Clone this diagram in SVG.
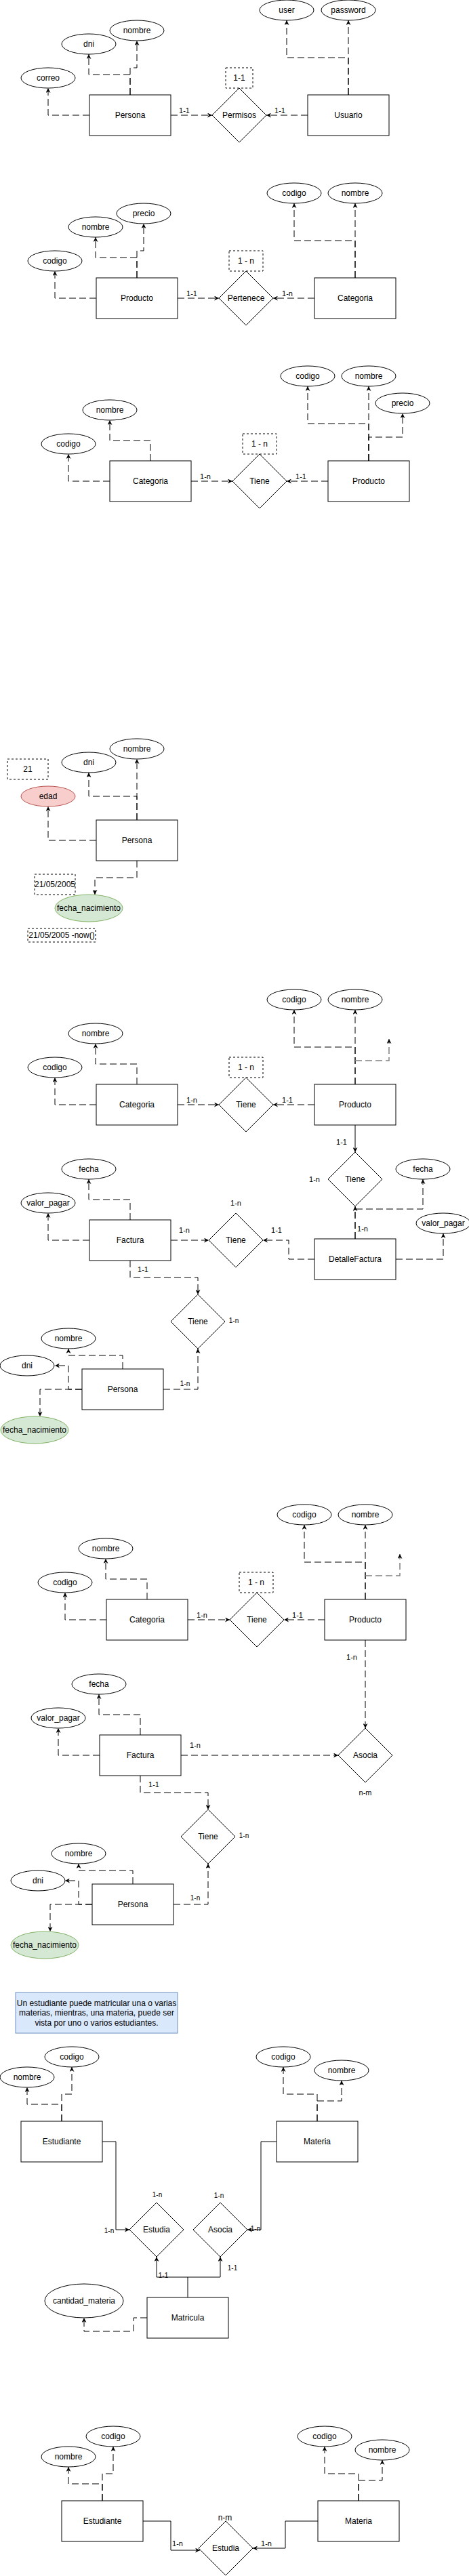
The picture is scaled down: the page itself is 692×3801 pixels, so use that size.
<svg xmlns="http://www.w3.org/2000/svg" width="692" height="3801" viewBox="0 0 692 3801">
<defs>
<style>
.ent,.attr,.rel{fill:#fff;stroke:#000;stroke-width:1}
.box{fill:none;stroke:#000;stroke-width:1;stroke-dasharray:3 3}
.red{fill:#f8cecc;stroke:#b85450}
.green{fill:#d5e8d4;stroke:#82b366}
.note{fill:#dae8fc;stroke:#6c8ebf}
.d{fill:none;stroke:#000;stroke-width:1;stroke-dasharray:10 5;marker-end:url(#arr)}
.dn{fill:none;stroke:#000;stroke-width:1;stroke-dasharray:10 5}
.g{fill:none;stroke:#808080;stroke-width:1.5;stroke-dasharray:10 5;marker-end:url(#arr)}
.s{fill:none;stroke:#000;stroke-width:1;marker-end:url(#arr)}
.sn{fill:none;stroke:#000;stroke-width:1}
text{font-family:"Liberation Sans",Arial,Helvetica,sans-serif;font-size:12px;fill:#000;text-anchor:middle;dominant-baseline:central}
.l{font-size:11px}
.sm{font-size:10px}
</style>
<marker id="arr" viewBox="0 0 10 10" refX="10" refY="5" markerWidth="7" markerHeight="7" markerUnits="userSpaceOnUse" orient="auto">
<path d="M0,0 L10,5 L0,10 L3,5 z" fill="#000"/>
</marker>
</defs>
<rect x="0" y="0" width="692" height="3801" fill="#fff"/>

<g id="connectors">
<!-- section 1 -->
<path class="d" d="M252,170 H313"/><text class="l" x="272" y="163">1-1</text>
<path class="d" d="M454,170 H393"/><text class="l" x="413" y="163">1-1</text>
<path class="d" d="M132,170 H71 V130"/>
<path class="d" d="M192,140 V110 H131 V80"/>
<path class="d" d="M192,140 V100 H202 V60"/>
<path class="d" d="M514,140 V85 H423 V30"/>
<path class="d" d="M514,140 V30"/>
<!-- section 2 -->
<path class="d" d="M262,440 H323"/><text class="l" x="283" y="433">1-1</text>
<path class="d" d="M464,440 H403"/><text class="l" x="424" y="433">1-n</text>
<path class="d" d="M142,440 H81 V400"/>
<path class="d" d="M202,410 V380 H141 V350"/>
<path class="d" d="M202,410 V370 H212 V330"/>
<path class="d" d="M524,410 V355 H434 V300"/>
<path class="d" d="M524,410 V300"/>
<!-- section 3 -->
<path class="d" d="M282,710 H343"/><text class="l" x="303" y="703">1-n</text>
<path class="d" d="M484,710 H423"/><text class="l" x="444" y="703">1-1</text>
<path class="d" d="M162,710 H101 V670"/>
<path class="d" d="M222,680 V650 H162 V620"/>
<path class="d" d="M544,680 V625 H454 V570"/>
<path class="d" d="M544,680 V570"/>
<path class="d" d="M544,680 V645 H594 V610"/>
<!-- section 4 -->
<path class="d" d="M142,1240 H71 V1190"/>
<path class="d" d="M202,1210 V1175 H131 V1140"/>
<path class="d" d="M202,1210 V1120"/>
<path class="d" d="M202,1270 V1295 H140 V1320"/>
<!-- section 5 -->
<path class="d" d="M262,1630 H323"/><text class="l" x="283" y="1623">1-n</text>
<path class="d" d="M464,1630 H403"/><text class="l" x="424" y="1623">1-1</text>
<path class="d" d="M142,1630 H81 V1590"/>
<path class="d" d="M202,1600 V1570 H141 V1540"/>
<path class="d" d="M524,1600 V1545 H434 V1490"/>
<path class="d" d="M524,1600 V1490"/>
<path class="g" d="M524,1565 H574 V1533"/>
<path class="s" d="M524,1660 V1700"/><text class="l" x="504" y="1685">1-1</text>
<text class="l" x="464" y="1740">1-n</text>
<path class="d" d="M252,1830 H308"/><text class="l" x="272" y="1815">1-n</text>
<path class="d" d="M464,1858 H426 V1830 H388"/><text class="l" x="408" y="1815">1-1</text>
<text class="l" x="348" y="1775">1-n</text>
<path class="d" d="M132,1830 H71 V1790"/>
<path class="d" d="M192,1800 V1770 H131 V1740"/>
<path class="d" d="M524,1828 V1780"/><text class="l" x="535" y="1813">1-n</text>
<path class="d" d="M524,1828 V1784 H624 V1740"/>
<path class="d" d="M584,1858 H654 V1820"/>
<path class="d" d="M192,1860 V1885 H292 V1910"/><text class="l" x="211" y="1873">1-1</text>
<text class="sm" x="345" y="1948">1-n</text>
<path class="d" d="M241,2050 H292 V1990"/><text class="sm" x="273" y="2041">1-n</text>
<path class="d" d="M181,2020 V2000 H101 V1990"/>
<path class="d" d="M121,2050 H101 V2015 H81"/>
<path class="d" d="M121,2050 H59 V2090"/>
<!-- section 6 -->
<path class="d" d="M277,2390 H339"/><text class="l" x="298" y="2383">1-n</text>
<path class="d" d="M479,2390 H419"/><text class="l" x="439" y="2383">1-1</text>
<path class="d" d="M157,2390 H96 V2350"/>
<path class="d" d="M217,2360 V2330 H156 V2300"/>
<path class="d" d="M539,2360 V2305 H449 V2250"/>
<path class="d" d="M539,2360 V2250"/>
<path class="g" d="M539,2325 H590 V2293"/>
<path class="d" d="M539,2420 V2550"/><text class="l" x="519" y="2445">1-n</text>
<text class="l" x="539" y="2645">n-m</text>
<path class="d" d="M267,2590 H499"/><text class="l" x="288" y="2575">1-n</text>
<path class="d" d="M147,2590 H86 V2550"/>
<path class="d" d="M207,2560 V2530 H146 V2500"/>
<path class="d" d="M207,2620 V2645 H307 V2670"/><text class="l" x="227" y="2633">1-1</text>
<text class="sm" x="360" y="2708">1-n</text>
<path class="d" d="M256,2810 H307 V2750"/><text class="sm" x="288" y="2800">1-n</text>
<path class="d" d="M196,2780 V2760 H116 V2750"/>
<path class="d" d="M136,2810 H116 V2775 H96"/>
<path class="d" d="M136,2810 H74 V2850"/>
<!-- section 7 -->
<path class="s" d="M151,3160 H171 V3290 H191"/><text class="sm" x="161" y="3291">1-n</text>
<text class="sm" x="232" y="3238">1-n</text>
<text class="sm" x="323" y="3239">1-n</text>
<path class="s" d="M408,3160 H385 V3290 H365"/><text class="sm" x="377" y="3288">1-n</text>
<path class="s" d="M277,3390 V3360 H231 V3330"/><text class="sm" x="241" y="3357">1-1</text>
<path class="s" d="M277,3360 H325 V3330"/><text class="sm" x="343" y="3346">1-1</text>
<path class="d" d="M217,3420 H197 V3440 H124 V3420"/>
<path class="d" d="M91,3130 V3105 H40 V3080"/>
<path class="d" d="M91,3130 V3090 H106 V3050"/>
<path class="d" d="M468,3130 V3090 H418 V3050"/>
<path class="d" d="M468,3130 V3100 H504 V3070"/>
<!-- section 8 -->
<path class="s" d="M211,3720 H252 V3763 H295"/><text class="l" x="262" y="3753">1-n</text>
<path class="s" d="M469,3720 H421 V3760 H373"/><text class="l" x="393" y="3753">1-n</text>
<text x="332" y="3715">n-m</text>
<path class="d" d="M151,3690 V3665 H101 V3640"/>
<path class="d" d="M151,3690 V3650 H167 V3610"/>
<path class="d" d="M529,3690 V3650 H479 V3610"/>
<path class="d" d="M529,3690 V3660 H564 V3630"/>
</g>

<!-- Section 1 -->
<g id="s1-user"><ellipse class="attr" cx="423" cy="15" rx="40" ry="15"/><text x="423" y="15">user</text></g>
<g id="s1-password"><ellipse class="attr" cx="514" cy="15" rx="40" ry="15"/><text x="514" y="15">password</text></g>
<g id="s1-nombre"><ellipse class="attr" cx="202" cy="45" rx="40" ry="15"/><text x="202" y="45">nombre</text></g>
<g id="s1-dni"><ellipse class="attr" cx="131" cy="65" rx="40" ry="15"/><text x="131" y="65">dni</text></g>
<g id="s1-correo"><ellipse class="attr" cx="71" cy="115" rx="40" ry="15"/><text x="71" y="115">correo</text></g>
<g id="s1-persona"><rect class="ent" x="132" y="140" width="120" height="60"/><text x="192" y="170">Persona</text></g>
<g id="s1-permisos"><polygon class="rel" points="353,130 393,170 353,210 313,170"/><text x="353" y="170">Permisos</text></g>
<g id="s1-card"><rect class="box" x="333" y="100" width="40" height="30"/><text x="353" y="115">1-1</text></g>
<g id="s1-usuario"><rect class="ent" x="454" y="140" width="120" height="60"/><text x="514" y="170">Usuario</text></g>

<!-- Section 2 -->
<g id="s2-codigo-c"><ellipse class="attr" cx="434" cy="285" rx="40" ry="15"/><text x="434" y="285">codigo</text></g>
<g id="s2-nombre-c"><ellipse class="attr" cx="524" cy="285" rx="40" ry="15"/><text x="524" y="285">nombre</text></g>
<g id="s2-precio"><ellipse class="attr" cx="212" cy="315" rx="40" ry="15"/><text x="212" y="315">precio</text></g>
<g id="s2-nombre-p"><ellipse class="attr" cx="141" cy="335" rx="40" ry="15"/><text x="141" y="335">nombre</text></g>
<g id="s2-codigo-p"><ellipse class="attr" cx="81" cy="385" rx="40" ry="15"/><text x="81" y="385">codigo</text></g>
<g id="s2-producto"><rect class="ent" x="142" y="410" width="120" height="60"/><text x="202" y="440">Producto</text></g>
<g id="s2-pertenece"><polygon class="rel" points="363,400 403,440 363,480 323,440"/><text x="363" y="440">Pertenece</text></g>
<g id="s2-card"><rect class="box" x="338" y="370" width="50" height="30"/><text x="363" y="385">1 - n</text></g>
<g id="s2-categoria"><rect class="ent" x="464" y="410" width="120" height="60"/><text x="524" y="440">Categoria</text></g>

<!-- Section 3 -->
<g id="s3-codigo-p"><ellipse class="attr" cx="454" cy="555" rx="40" ry="15"/><text x="454" y="555">codigo</text></g>
<g id="s3-nombre-p"><ellipse class="attr" cx="544" cy="555" rx="40" ry="15"/><text x="544" y="555">nombre</text></g>
<g id="s3-precio"><ellipse class="attr" cx="594" cy="595" rx="40" ry="15"/><text x="594" y="595">precio</text></g>
<g id="s3-nombre-c"><ellipse class="attr" cx="162" cy="605" rx="40" ry="15"/><text x="162" y="605">nombre</text></g>
<g id="s3-codigo-c"><ellipse class="attr" cx="101" cy="655" rx="40" ry="15"/><text x="101" y="655">codigo</text></g>
<g id="s3-categoria"><rect class="ent" x="162" y="680" width="120" height="60"/><text x="222" y="710">Categoria</text></g>
<g id="s3-tiene"><polygon class="rel" points="383,670 423,710 383,750 343,710"/><text x="383" y="710">Tiene</text></g>
<g id="s3-card"><rect class="box" x="358" y="640" width="50" height="30"/><text x="383" y="655">1 - n</text></g>
<g id="s3-producto"><rect class="ent" x="484" y="680" width="120" height="60"/><text x="544" y="710">Producto</text></g>

<!-- Section 4 -->
<g id="s4-nombre"><ellipse class="attr" cx="202" cy="1105" rx="40" ry="15"/><text x="202" y="1105">nombre</text></g>
<g id="s4-dni"><ellipse class="attr" cx="131" cy="1125" rx="40" ry="15"/><text x="131" y="1125">dni</text></g>
<g id="s4-21"><rect class="box" x="11" y="1120" width="60" height="30"/><text x="41" y="1135">21</text></g>
<g id="s4-edad"><ellipse class="red" cx="71" cy="1175" rx="40" ry="15"/><text x="71" y="1175">edad</text></g>
<g id="s4-persona"><rect class="ent" x="142" y="1210" width="120" height="60"/><text x="202" y="1240">Persona</text></g>
<g id="s4-fecha-val"><rect class="box" x="51" y="1290" width="60" height="30"/><text x="81" y="1305">21/05/2005</text></g>
<g id="s4-fecha-nac"><ellipse class="green" cx="131" cy="1340" rx="50" ry="20"/><text x="131" y="1340">fecha_nacimiento</text></g>
<g id="s4-formula"><rect class="box" x="41" y="1370" width="100" height="20"/><text x="91" y="1380">21/05/2005 -now()</text></g>

<!-- Section 5 -->
<g id="s5-codigo-p"><ellipse class="attr" cx="434" cy="1475" rx="40" ry="15"/><text x="434" y="1475">codigo</text></g>
<g id="s5-nombre-p"><ellipse class="attr" cx="524" cy="1475" rx="40" ry="15"/><text x="524" y="1475">nombre</text></g>
<g id="s5-nombre-c"><ellipse class="attr" cx="141" cy="1525" rx="40" ry="15"/><text x="141" y="1525">nombre</text></g>
<g id="s5-codigo-c"><ellipse class="attr" cx="81" cy="1575" rx="40" ry="15"/><text x="81" y="1575">codigo</text></g>
<g id="s5-card"><rect class="box" x="338" y="1560" width="50" height="30"/><text x="363" y="1575">1 - n</text></g>
<g id="s5-categoria"><rect class="ent" x="142" y="1600" width="120" height="60"/><text x="202" y="1630">Categoria</text></g>
<g id="s5-tiene"><polygon class="rel" points="363,1590 403,1630 363,1670 323,1630"/><text x="363" y="1630">Tiene</text></g>
<g id="s5-producto"><rect class="ent" x="464" y="1600" width="120" height="60"/><text x="524" y="1630">Producto</text></g>
<g id="s5-tiene2"><polygon class="rel" points="524,1700 564,1740 524,1780 484,1740"/><text x="524" y="1740">Tiene</text></g>
<g id="s5-fecha-f"><ellipse class="attr" cx="131" cy="1725" rx="40" ry="15"/><text x="131" y="1725">fecha</text></g>
<g id="s5-fecha-d"><ellipse class="attr" cx="624" cy="1725" rx="40" ry="15"/><text x="624" y="1725">fecha</text></g>
<g id="s5-valor-f"><ellipse class="attr" cx="71" cy="1775" rx="40" ry="15"/><text x="71" y="1775">valor_pagar</text></g>
<g id="s5-factura"><rect class="ent" x="132" y="1800" width="120" height="60"/><text x="192" y="1830">Factura</text></g>
<g id="s5-tiene3"><polygon class="rel" points="348,1790 388,1830 348,1870 308,1830"/><text x="348" y="1830">Tiene</text></g>
<g id="s5-detalle"><rect class="ent" x="464" y="1828" width="120" height="60"/><text x="524" y="1858">DetalleFactura</text></g>
<g id="s5-valor-d"><ellipse class="attr" cx="654" cy="1805" rx="40" ry="15"/><text x="654" y="1805">valor_pagar</text></g>
<g id="s5-tiene4"><polygon class="rel" points="292,1910 332,1950 292,1990 252,1950"/><text x="292" y="1950">Tiene</text></g>
<g id="s5-nombre"><ellipse class="attr" cx="101" cy="1975" rx="40" ry="15"/><text x="101" y="1975">nombre</text></g>
<g id="s5-dni"><ellipse class="attr" cx="40" cy="2015" rx="40" ry="15"/><text x="40" y="2015">dni</text></g>
<g id="s5-persona"><rect class="ent" x="121" y="2020" width="120" height="60"/><text x="181" y="2050">Persona</text></g>
<g id="s5-fecha-nac"><ellipse class="green" cx="51" cy="2110" rx="50" ry="20"/><text x="51" y="2110">fecha_nacimiento</text></g>

<!-- Section 6 -->
<g id="s6-codigo-p"><ellipse class="attr" cx="449" cy="2235" rx="40" ry="15"/><text x="449" y="2235">codigo</text></g>
<g id="s6-nombre-p"><ellipse class="attr" cx="539" cy="2235" rx="40" ry="15"/><text x="539" y="2235">nombre</text></g>
<g id="s6-nombre-c"><ellipse class="attr" cx="156" cy="2285" rx="40" ry="15"/><text x="156" y="2285">nombre</text></g>
<g id="s6-codigo-c"><ellipse class="attr" cx="96" cy="2335" rx="40" ry="15"/><text x="96" y="2335">codigo</text></g>
<g id="s6-card"><rect class="box" x="353" y="2320" width="50" height="30"/><text x="378" y="2335">1 - n</text></g>
<g id="s6-categoria"><rect class="ent" x="157" y="2360" width="120" height="60"/><text x="217" y="2390">Categoria</text></g>
<g id="s6-tiene"><polygon class="rel" points="379,2350 419,2390 379,2430 339,2390"/><text x="379" y="2390">Tiene</text></g>
<g id="s6-producto"><rect class="ent" x="479" y="2360" width="120" height="60"/><text x="539" y="2390">Producto</text></g>
<g id="s6-asocia"><polygon class="rel" points="539,2550 579,2590 539,2630 499,2590"/><text x="539" y="2590">Asocia</text></g>
<g id="s6-fecha"><ellipse class="attr" cx="146" cy="2485" rx="40" ry="15"/><text x="146" y="2485">fecha</text></g>
<g id="s6-valor"><ellipse class="attr" cx="86" cy="2535" rx="40" ry="15"/><text x="86" y="2535">valor_pagar</text></g>
<g id="s6-factura"><rect class="ent" x="147" y="2560" width="120" height="60"/><text x="207" y="2590">Factura</text></g>
<g id="s6-tiene2"><polygon class="rel" points="307,2670 347,2710 307,2750 267,2710"/><text x="307" y="2710">Tiene</text></g>
<g id="s6-nombre"><ellipse class="attr" cx="116" cy="2735" rx="40" ry="15"/><text x="116" y="2735">nombre</text></g>
<g id="s6-dni"><ellipse class="attr" cx="56" cy="2775" rx="40" ry="15"/><text x="56" y="2775">dni</text></g>
<g id="s6-persona"><rect class="ent" x="136" y="2780" width="120" height="60"/><text x="196" y="2810">Persona</text></g>
<g id="s6-fecha-nac"><ellipse class="green" cx="66" cy="2870" rx="50" ry="20"/><text x="66" y="2870">fecha_nacimiento</text></g>

<!-- Section 7 -->
<g id="s7-note"><rect class="note" x="23" y="2940" width="239" height="60"/>
<text x="142.5" y="2956">Un estudiante puede matricular una o varias</text>
<text x="142.5" y="2970">materias, mientras, una materia, puede ser</text>
<text x="142.5" y="2985">vista por uno o varios estudiantes.</text></g>
<g id="s7-codigo-e"><ellipse class="attr" cx="106" cy="3035" rx="40" ry="15"/><text x="106" y="3035">codigo</text></g>
<g id="s7-nombre-e"><ellipse class="attr" cx="40" cy="3065" rx="40" ry="15"/><text x="40" y="3065">nombre</text></g>
<g id="s7-estudiante"><rect class="ent" x="31" y="3130" width="120" height="60"/><text x="91" y="3160">Estudiante</text></g>
<g id="s7-codigo-m"><ellipse class="attr" cx="418" cy="3035" rx="40" ry="15"/><text x="418" y="3035">codigo</text></g>
<g id="s7-nombre-m"><ellipse class="attr" cx="504" cy="3055" rx="40" ry="15"/><text x="504" y="3055">nombre</text></g>
<g id="s7-materia"><rect class="ent" x="408" y="3130" width="120" height="60"/><text x="468" y="3160">Materia</text></g>
<g id="s7-estudia"><polygon class="rel" points="231,3250 271,3290 231,3330 191,3290"/><text x="231" y="3290">Estudia</text></g>
<g id="s7-asocia"><polygon class="rel" points="325,3250 365,3290 325,3330 285,3290"/><text x="325" y="3290">Asocia</text></g>
<g id="s7-matricula"><rect class="ent" x="217" y="3390" width="120" height="60"/><text x="277" y="3420">Matricula</text></g>
<g id="s7-cantidad"><ellipse class="attr" cx="124" cy="3395" rx="58" ry="25"/><text x="124" y="3395">cantidad_materia</text></g>

<!-- Section 8 -->
<g id="s8-codigo-e"><ellipse class="attr" cx="167" cy="3595" rx="40" ry="15"/><text x="167" y="3595">codigo</text></g>
<g id="s8-nombre-e"><ellipse class="attr" cx="101" cy="3625" rx="40" ry="15"/><text x="101" y="3625">nombre</text></g>
<g id="s8-estudiante"><rect class="ent" x="91" y="3690" width="120" height="60"/><text x="151" y="3720">Estudiante</text></g>
<g id="s8-codigo-m"><ellipse class="attr" cx="479" cy="3595" rx="40" ry="15"/><text x="479" y="3595">codigo</text></g>
<g id="s8-nombre-m"><ellipse class="attr" cx="564" cy="3615" rx="40" ry="15"/><text x="564" y="3615">nombre</text></g>
<g id="s8-materia"><rect class="ent" x="469" y="3690" width="120" height="60"/><text x="529" y="3720">Materia</text></g>
<g id="s8-estudia"><polygon class="rel" points="333,3720 373,3760 333,3800 293,3760"/><text x="333" y="3760">Estudia</text></g>
</svg>
